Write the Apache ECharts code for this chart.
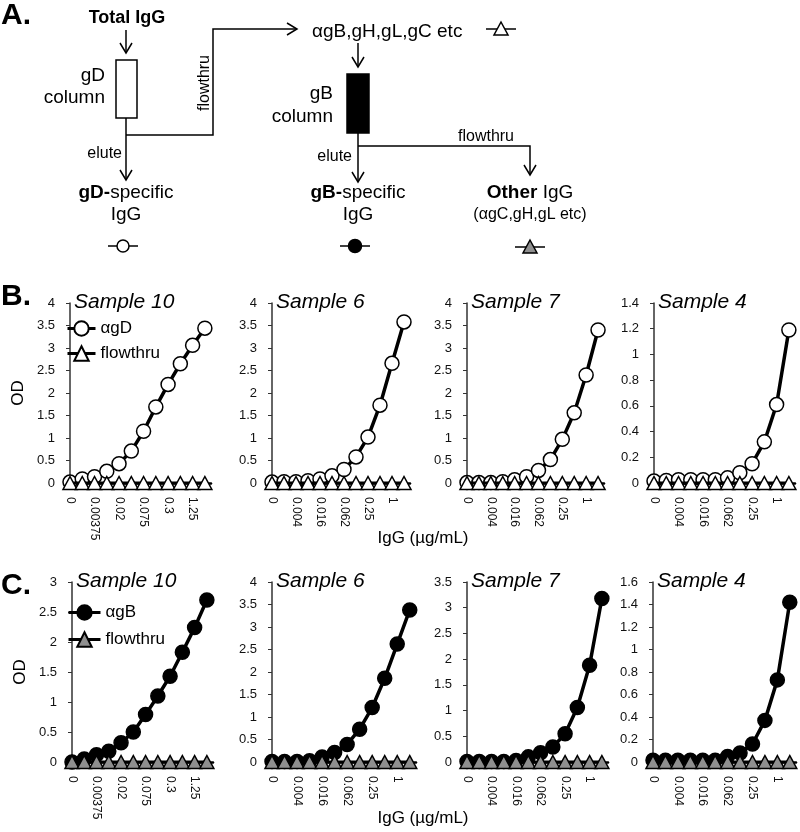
<!DOCTYPE html>
<html><head><meta charset="utf-8">
<script src="https://cdn.jsdelivr.net/npm/echarts@6/dist/echarts.min.js"></script>
<style>html,body{margin:0;padding:0;background:#fff}#c{width:800px;height:832px}</style>
</head><body><div id="c"></div><script>
// ---- tick labels (every other dilution is labelled) ----
const ticksSample10 = ['0','0.00375','0.02','0.075','0.3','1.25'];
const ticksOther = ['0','0.004','0.016','0.062','0.25','1'];

// ---- B: gD-specific IgG (αgD) and flowthru ----
const bS10_agD = [0.02, 0.09, 0.14, 0.26, 0.43, 0.71, 1.15, 1.69, 2.19, 2.65, 3.06, 3.44];
const bS6_agD  = [0.02, 0.03, 0.03, 0.05, 0.09, 0.16, 0.30, 0.58, 1.02, 1.73, 2.66, 3.58];
const bS7_agD  = [0.01, 0.01, 0.01, 0.03, 0.07, 0.14, 0.28, 0.52, 0.97, 1.56, 2.40, 3.40];
const bS4_agD  = [0.015, 0.02, 0.025, 0.025, 0.025, 0.025, 0.04, 0.08, 0.15, 0.32, 0.61, 1.19];
const bS10_flow = [0, 0, 0, 0, 0, 0, 0, 0, 0, 0, 0, 0];
const bS6_flow  = [0, 0, 0, 0, 0, 0, 0, 0, 0, 0, 0, 0];
const bS7_flow  = [0, 0, 0, 0, 0, 0, 0, 0, 0, 0, 0, 0];
const bS4_flow  = [0, 0, 0, 0, 0, 0, 0, 0, 0, 0, 0, 0];

// ---- C: gB-specific IgG (αgB) and flowthru ----
const cS10_agB = [0.0, 0.05, 0.12, 0.18, 0.32, 0.50, 0.79, 1.10, 1.43, 1.83, 2.24, 2.70];
const cS6_agB  = [0.01, 0.01, 0.01, 0.03, 0.11, 0.21, 0.39, 0.73, 1.21, 1.86, 2.62, 3.38];
const cS7_agB  = [0.01, 0.01, 0.01, 0.01, 0.03, 0.10, 0.18, 0.29, 0.55, 1.06, 1.88, 3.18];
const cS4_agB  = [0.015, 0.015, 0.015, 0.015, 0.015, 0.015, 0.05, 0.08, 0.16, 0.37, 0.73, 1.42];
const cS10_flow = [0, 0, 0, 0, 0, 0, 0, 0, 0, 0, 0, 0];
const cS6_flow  = [0, 0, 0, 0, 0, 0, 0, 0, 0, 0, 0, 0];
const cS7_flow  = [0, 0, 0, 0, 0, 0, 0, 0, 0, 0, 0, 0];
const cS4_flow  = [0, 0, 0, 0, 0, 0, 0, 0, 0, 0, 0, 0];

// y-axis ranges
const yMax = { B: [4, 4, 4, 1.4], C: [3, 4, 3.5, 1.6] };
const yStep = { B: [0.5, 0.5, 0.5, 0.2], C: [0.5, 0.5, 0.5, 0.2] };
const sampleNames = ['Sample 10', 'Sample 6', 'Sample 7', 'Sample 4'];

const FONT = '"Liberation Sans", Arial, sans-serif';

const panels = [
  {row:'B', k:0, left:70,  width:141, ticks:ticksSample10, main:bS10_agD, flow:bS10_flow},
  {row:'B', k:1, left:272, width:138, ticks:ticksOther,    main:bS6_agD,  flow:bS6_flow},
  {row:'B', k:2, left:467, width:137, ticks:ticksOther,    main:bS7_agD,  flow:bS7_flow},
  {row:'B', k:3, left:654, width:141, ticks:ticksOther,    main:bS4_agD,  flow:bS4_flow},
  {row:'C', k:0, left:72,  width:141, ticks:ticksSample10, main:cS10_agB, flow:cS10_flow},
  {row:'C', k:1, left:272, width:144, ticks:ticksOther,    main:cS6_agB,  flow:cS6_flow},
  {row:'C', k:2, left:467, width:141, ticks:ticksOther,    main:cS7_agB,  flow:cS7_flow},
  {row:'C', k:3, left:653, width:143, ticks:ticksOther,    main:cS4_agB,  flow:cS4_flow}
];
const rowTop = { B: 303, C: 582 };
const PH = 180;

const grid = [], xAxis = [], yAxis = [], series = [], title = [];
panels.forEach((p, i) => {
  grid.push({ left: p.left, top: rowTop[p.row], width: p.width, height: PH });
  xAxis.push({
    type: 'value', gridIndex: i, min: 0, max: 11.5, interval: 2, offset: 6,
    axisLine: { show: true, lineStyle: { color: '#000', width: 2.5 } },
    axisTick: { show: false }, splitLine: { show: false },
    axisLabel: {
      rotate: -90, margin: 8, fontSize: 12, color: '#111', fontFamily: FONT,
      showMaxLabel: false,
      formatter: (v) => (Number.isInteger(v / 2) && p.ticks[v / 2] !== undefined) ? p.ticks[v / 2] : ''
    }
  });
  yAxis.push({
    type: 'value', gridIndex: i, min: 0, max: yMax[p.row][p.k], interval: yStep[p.row][p.k],
    axisLine: { show: true, lineStyle: { color: '#333', width: 1.5 } },
    axisTick: { show: true, length: 4, lineStyle: { color: '#333', width: 1 } },
    splitLine: { show: false },
    axisLabel: { fontSize: 13, color: '#111', margin: 15, fontFamily: FONT },
    name: p.k === 0 ? 'OD' : '', nameLocation: 'middle', nameGap: 43, nameRotate: 90,
    nameTextStyle: { fontSize: 17, color: '#000', fontFamily: FONT }
  });
  const isB = p.row === 'B';
  series.push({
    type: 'line', name: isB ? 'αgD' : 'αgB', xAxisIndex: i, yAxisIndex: i,
    data: p.main.map((v, j) => [j, v]), symbol: 'circle', symbolSize: 14, clip: false,
    lineStyle: { color: '#000', width: 3.5 },
    itemStyle: { color: isB ? '#fff' : '#000', borderColor: '#000', borderWidth: 1.5 },
    z: 2
  });
  series.push({
    type: 'line', name: 'flowthru_' + p.row, xAxisIndex: i, yAxisIndex: i,
    data: p.flow.map((v, j) => [j, v]), symbol: 'triangle', symbolSize: [14, 13], clip: false,
    lineStyle: { color: '#000', width: 3 },
    itemStyle: { color: isB ? '#fff' : '#8f8f8f', borderColor: '#000', borderWidth: 1.5 },
    z: 3
  });
  title.push({
    text: sampleNames[p.k], left: p.left + 4, top: rowTop[p.row] - 11, padding: 0,
    textStyle: { fontStyle: 'italic', fontWeight: 'normal', fontSize: 21, color: '#000', fontFamily: FONT }
  });
});

// ---- panel A diagram + panel letters ----
const ln = (pts, w) => ({ type: 'polyline', shape: { points: pts }, style: { stroke: '#000', lineWidth: w || 1.5, fill: null } });
const tx = (x, y, text, o) => ({ type: 'text', x: x, y: y, style: Object.assign({ text: text, fill: '#000', fontSize: 19, fontFamily: FONT, align: 'center', verticalAlign: 'middle' }, o || {}) });
const downArrow = (x, y) => ln([[x - 6, y - 10], [x, y], [x + 6, y - 10]]);
const rich = { b: { fontWeight: 'bold', fontSize: 19, fontFamily: FONT } };

const flowVertical = tx(205, 83, 'flowthru', { fontSize: 16 });
flowVertical.rotation = Math.PI / 2;

const graphics = [
  tx(1, 16, 'A.', { align: 'left', fontSize: 30, fontWeight: 'bold' }),
  tx(1, 297, 'B.', { align: 'left', fontSize: 30, fontWeight: 'bold' }),
  tx(1, 586, 'C.', { align: 'left', fontSize: 30, fontWeight: 'bold' }),
  tx(127, 18, 'Total IgG', { fontWeight: 'bold', fontSize: 18 }),
  ln([[126, 30], [126, 53]]), downArrow(126, 53),
  { type: 'rect', shape: { x: 116, y: 60, width: 21, height: 58 }, style: { fill: '#fff', stroke: '#000', lineWidth: 1.5 } },
  tx(105, 76, 'gD', { align: 'right' }),
  tx(105, 98, 'column', { align: 'right' }),
  ln([[126, 118], [126, 180]]), downArrow(126, 180),
  ln([[126, 135], [213, 135], [213, 29], [297, 29]]),
  ln([[287, 23], [297, 29], [287, 35]]),
  flowVertical,
  tx(122, 154, 'elute', { align: 'right', fontSize: 16 }),
  tx(126, 193, '{b|gD-}specific', { rich: rich }),
  tx(126, 215, 'IgG'),
  ln([[108, 246], [138, 246]]),
  { type: 'circle', shape: { cx: 123, cy: 246, r: 6 }, style: { fill: '#fff', stroke: '#000', lineWidth: 1.5 } },

  tx(312, 32, 'αgB,gH,gL,gC etc', { align: 'left' }),
  ln([[486, 29], [516, 29]]),
  { type: 'polygon', shape: { points: [[501, 22], [508, 35], [494, 35]] }, style: { fill: '#fff', stroke: '#000', lineWidth: 1.5 } },
  ln([[358, 43], [358, 67]]), downArrow(358, 67),
  { type: 'rect', shape: { x: 347, y: 74, width: 22, height: 59 }, style: { fill: '#000', stroke: '#000', lineWidth: 1.5 } },
  tx(333, 94, 'gB', { align: 'right' }),
  tx(333, 117, 'column', { align: 'right' }),
  ln([[358, 133], [358, 182]]), downArrow(358, 182),
  ln([[358, 146], [530, 146], [530, 175]]), downArrow(530, 175),
  tx(352, 157, 'elute', { align: 'right', fontSize: 16 }),
  tx(486, 137, 'flowthru', { fontSize: 16 }),
  tx(358, 193, '{b|gB-}specific', { rich: rich }),
  tx(358, 215, 'IgG'),
  ln([[340, 246], [370, 246]]),
  { type: 'circle', shape: { cx: 355, cy: 246, r: 6.5 }, style: { fill: '#000', stroke: '#000', lineWidth: 1.5 } },
  tx(530, 193, '{b|Other} IgG', { rich: rich }),
  tx(530, 215, '(αgC,gH,gL etc)', { fontSize: 16 }),
  ln([[515, 247], [545, 247]]),
  { type: 'polygon', shape: { points: [[530, 240], [537, 253], [523, 253]] }, style: { fill: '#8f8f8f', stroke: '#000', lineWidth: 1.5 } },

  tx(423, 538, 'IgG (µg/mL)', { fontSize: 17 }),
  tx(423, 818, 'IgG (µg/mL)', { fontSize: 17 })
];

const legendFmt = (n) => n.replace(/_[BC]$/, '');
const option = {
  animation: false,
  backgroundColor: '#fff',
  textStyle: { fontFamily: FONT },
  title: title,
  grid: grid, xAxis: xAxis, yAxis: yAxis, series: series,
  legend: [
    { data: ['αgD', 'flowthru_B'], orient: 'vertical', left: 66, top: 320, itemWidth: 28, itemHeight: 18, itemGap: 8,
      selectedMode: false, formatter: legendFmt, lineStyle: { width: 3, color: '#000' },
      textStyle: { fontSize: 17, color: '#000', fontFamily: FONT }, padding: 0 },
    { data: ['αgB', 'flowthru_C'], orient: 'vertical', left: 67, top: 604, itemWidth: 32, itemHeight: 18, itemGap: 10,
      selectedMode: false, formatter: legendFmt, lineStyle: { width: 3, color: '#000' },
      textStyle: { fontSize: 17, color: '#000', fontFamily: FONT }, padding: 0 }
  ],
  graphic: graphics
};
const chart = echarts.init(document.getElementById('c'), null, { renderer: 'canvas' });
chart.setOption(option);
</script></body></html>
